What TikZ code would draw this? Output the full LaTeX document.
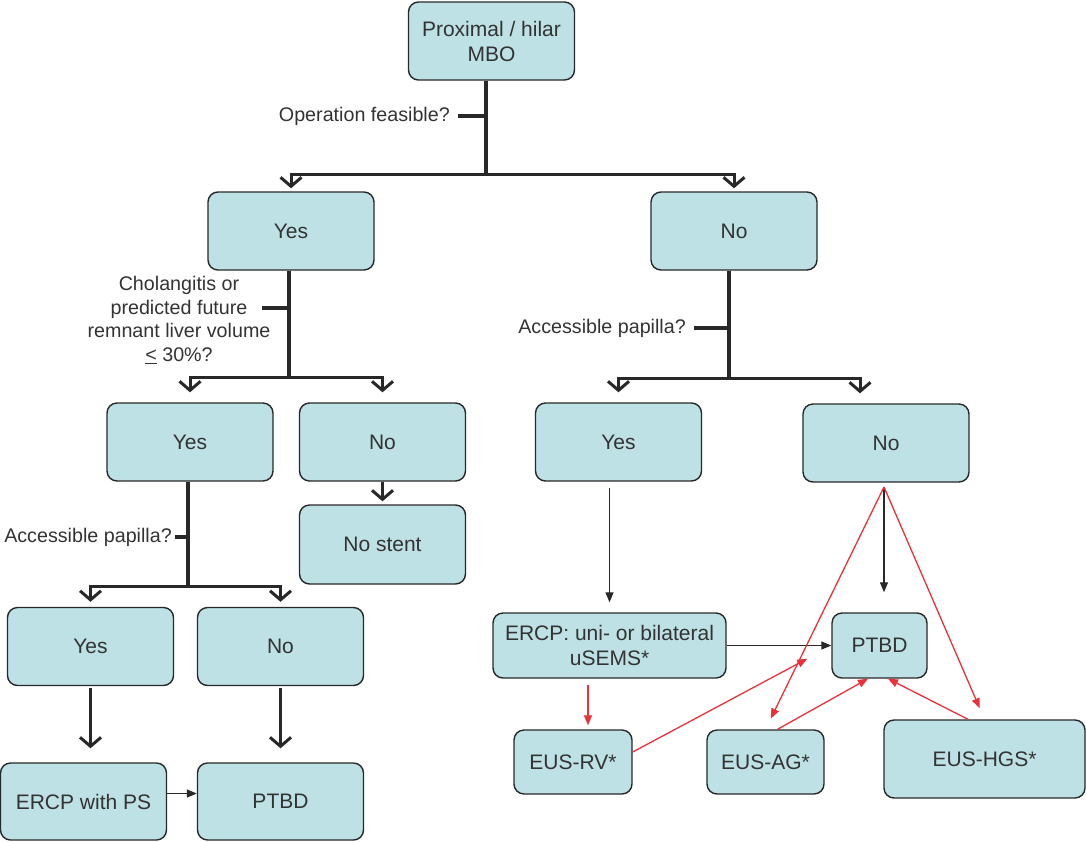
\documentclass[tikz,border=0pt]{standalone}
\usepackage{fontspec}
\setmainfont{Liberation Sans}
\usetikzlibrary{arrows.meta,positioning}
\definecolor{boxfill}{RGB}{189,225,228}
\definecolor{boxline}{RGB}{40,40,40}
\definecolor{txtgray}{RGB}{51,51,51}
\definecolor{redline}{RGB}{232,50,56}

\begin{document}
\begin{tikzpicture}[x=1pt,y=-1pt,
  font=\fontsize{19.7}{23.7}\selectfont,
  box/.style={draw=boxline,fill=boxfill,line width=1.4pt,rounded corners=10pt,text=txtgray,
    font=\fontsize{21}{25}\selectfont,align=center,minimum width=166pt,minimum height=78pt,inner sep=2pt},
  qlabel/.style={text=txtgray,align=center,inner sep=0pt,anchor=east},
  trunk/.style={draw=boxline,line width=4pt},
  branch/.style={draw=boxline,line width=3pt,-{Straight Barb[length=9pt,width=21pt,line width=3pt]}},
  tick/.style={draw=boxline,line width=3.5pt},
  thinarrow/.style={draw=boxline,line width=1.3pt,-{Triangle[length=10pt,width=8pt]}},
  redarrow/.style={draw=redline,line width=1.3pt,-{Triangle[length=10pt,width=8pt]}}]

  \useasboundingbox (0,0) rectangle (1086,841);

  % Draw boxes
  \node[box] (root) at (491.5,41) {Proximal / hilar\\MBO};
  \node[box] (yesA) at (291,231) {Yes};
  \node[box] (noA) at (734,231) {No};
  \node[box] (yesB) at (190,442) {Yes};
  \node[box] (noB) at (382.5,442) {No};
  \node[box,minimum height=79pt] (stent) at (382.5,544.5) {No stent};
  \node[box] (yesC) at (90.5,646.5) {Yes};
  \node[box] (noC) at (280.5,646.5) {No};
  \node[box,minimum height=77pt] (ercpps) at (83.5,801.5) {ERCP with PS};
  \node[box,minimum height=77pt] (ptbdL) at (280.5,801.5) {PTBD};
  \node[box] (yesD) at (618.5,442) {Yes};
  \node[box] (noD) at (886,443) {No};
  \node[box,minimum width=233pt,minimum height=65pt] (ercp) at (609.5,645.5) {ERCP: uni- or bilateral\\uSEMS*};
  \node[box,minimum width=95pt,minimum height=65pt] (ptbdR) at (879.5,645.5) {PTBD};
  \node[box,minimum width=118pt,minimum height=64pt] (rv) at (573,762) {EUS-RV*};
  \node[box,minimum width=117pt,minimum height=64pt] (ag) at (765.5,762) {EUS-AG*};
  \node[box,minimum width=201pt] (hgs) at (984.5,759) {EUS-HGS*};

  % Draw question labels
  \node[qlabel] (opq) at (450,116) {Operation feasible?};
  \node[qlabel,anchor=center] (cholq) at (179,320) {Cholangitis or\\predicted future\\remnant liver volume\\\underline{<} 30\%?};
  \node[qlabel] (papB) at (172,537) {Accessible papilla?};
  \node[qlabel] (papD) at (686,328) {Accessible papilla?};

  % Split points
  \coordinate (s0) at (486,174);
  \coordinate (s1) at (289,377);
  \coordinate (s2) at (188,586);
  \coordinate (s3) at (729,378);
  \coordinate (fan) at (884,487);

  %Draw split below root
  \draw[trunk] (root.south -| s0) -- (s0);
  \draw[tick] ([xshift=8pt]opq.east) -- (opq.east -| s0);
  \draw[branch,shorten >=3pt] (s0) -| (yesA.north);
  \draw[branch,shorten >=3pt] (s0) -| (noA.north);

  %Draw split below first yes
  \draw[trunk] (yesA.south -| s1) -- (s1);
  \draw[tick] ([yshift=12pt]cholq.east -| s1) -- ++(-27,0);
  \draw[branch,shorten >=10pt] (s1) -| (yesB.north);
  \draw[branch,shorten >=10pt] (s1) -| (noB.north);
  \draw[branch,shorten >=3pt] (noB) -- (stent);

  %Draw split below second yes
  \draw[trunk] (yesB.south -| s2) -- (s2);
  \draw[tick] ([xshift=3pt]papB.east) -- (papB.east -| s2);
  \draw[branch,shorten >=5pt] (s2) -| (yesC.north);
  \draw[branch,shorten >=5pt] (s2) -| (noC.north);
  \draw[branch,line width=2.4pt,shorten <=2pt,shorten >=14pt] (yesC.south) -- (yesC.south |- ercpps.north);
  \draw[branch,line width=2.4pt,shorten <=2pt,shorten >=14pt] (noC) -- (ptbdL);
  \draw[thinarrow] ([yshift=8pt]ercpps.east) -- ([yshift=8pt]ercpps.east -| ptbdL.west);

  %Draw split below first no
  \draw[trunk] (noA.south -| s3) -- (s3);
  \draw[tick] ([xshift=8pt]papD.east) -- (papD.east -| s3);
  \draw[branch,shorten >=10pt] (s3) -| (yesD.north);
  \draw[branch,shorten >=10pt] (s3) -| ([xshift=-26pt]noD.north);
  \draw[thinarrow,shorten <=6pt,shorten >=10pt] (ercp.north |- yesD.south) -- (ercp.north);
  \draw[thinarrow,shorten >=20pt] (fan) -- (fan |- ptbdR.north);
  \draw[thinarrow] (ercp.east) -- (ptbdR.west);

  %Draw red arrows to and from EUS boxes
  \draw[redarrow,shorten >=12pt] (fan) -- (ag.north);
  \draw[redarrow,shorten >=12pt] (fan) -- (hgs.north);
  \draw[redarrow,shorten <=6pt,shorten >=4pt] ([xshift=15pt]rv.north |- ercp.south) -- ([xshift=15pt]rv.north);
  \draw[redarrow] ([yshift=10pt]rv.east) -- ([xshift=-24pt,yshift=20pt]ptbdR.south west);
  \draw[redarrow] ([xshift=12pt]ag.north) -- ([xshift=-11.5pt]ptbdR.south);
  \draw[redarrow] ([xshift=-16.5pt]hgs.north) -- ([xshift=8.5pt]ptbdR.south);

\end{tikzpicture}
\end{document}
